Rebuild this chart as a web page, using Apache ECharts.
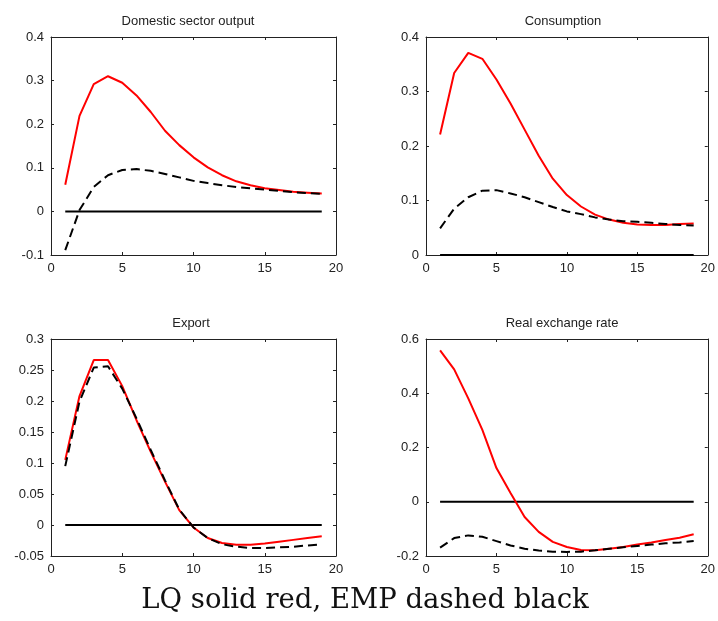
<!DOCTYPE html>
<html>
<head>
<meta charset="utf-8">
<script src="https://cdn.jsdelivr.net/npm/echarts@6/dist/echarts.min.js"></script>
<style>
html,body{margin:0;padding:0;background:#fff;}
#chart{width:718px;height:621px;}
</style>
</head>
<body>
<div id="chart"></div>
<script>
const periods = [1,2,3,4,5,6,7,8,9,10,11,12,13,14,15,16,17,18,19];
const zeroLine = [0,0,0,0,0,0,0,0,0,0,0,0,0,0,0,0,0,0,0];

const panelTitles = ['Domestic sector output', 'Consumption', 'Export', 'Real exchange rate'];
const captionText = 'LQ solid red, EMP dashed black';

const outputLQ  = [0.061, 0.219, 0.292, 0.310, 0.295, 0.266, 0.228, 0.185, 0.152, 0.124, 0.101, 0.083, 0.069, 0.060, 0.053, 0.049, 0.045, 0.043, 0.041];
const outputEMP = [-0.089, 0.003, 0.056, 0.083, 0.095, 0.097, 0.093, 0.086, 0.078, 0.070, 0.065, 0.060, 0.056, 0.053, 0.050, 0.047, 0.044, 0.042, 0.040];

const consLQ  = [0.221, 0.334, 0.371, 0.360, 0.322, 0.278, 0.230, 0.182, 0.140, 0.110, 0.089, 0.074, 0.065, 0.059, 0.056, 0.055, 0.055, 0.057, 0.058];
const consEMP = [0.049, 0.085, 0.106, 0.118, 0.119, 0.113, 0.106, 0.097, 0.088, 0.080, 0.075, 0.069, 0.065, 0.062, 0.061, 0.059, 0.057, 0.055, 0.054];

const exportLQ  = [0.105, 0.208, 0.266, 0.266, 0.224, 0.169, 0.118, 0.070, 0.024, -0.004, -0.021, -0.029, -0.032, -0.032, -0.030, -0.027, -0.024, -0.021, -0.018];
const exportEMP = [0.095, 0.199, 0.254, 0.256, 0.220, 0.172, 0.121, 0.072, 0.025, -0.004, -0.021, -0.031, -0.035, -0.037, -0.037, -0.036, -0.035, -0.033, -0.031];

const rerLQ  = [0.558, 0.488, 0.381, 0.265, 0.124, 0.032, -0.056, -0.111, -0.148, -0.167, -0.178, -0.179, -0.173, -0.167, -0.158, -0.150, -0.141, -0.133, -0.120];
const rerEMP = [-0.169, -0.134, -0.124, -0.129, -0.145, -0.161, -0.173, -0.180, -0.184, -0.185, -0.184, -0.179, -0.173, -0.168, -0.163, -0.158, -0.153, -0.150, -0.145];

const xTicks = {min: 0, max: 20, interval: 5};
const yRanges = [
  {min: -0.1, max: 0.4, interval: 0.1},
  {min: 0, max: 0.4, interval: 0.1},
  {min: -0.05, max: 0.3, interval: 0.05},
  {min: -0.2, max: 0.6, interval: 0.2}
];
const lqSeries = [outputLQ, consLQ, exportLQ, rerLQ];
const empSeries = [outputEMP, consEMP, exportEMP, rerEMP];

const grids = [
  {left: 51, top: 37, width: 285, height: 218},
  {left: 426, top: 37, width: 284, height: 218},
  {left: 51, top: 339, width: 285, height: 217},
  {left: 426, top: 339, width: 284, height: 217}
];
const titlePos = [[188, 21], [563, 21], [191, 323], [562, 323]];

const axisColor = '#222';
const labelFont = {color: '#222', fontSize: 13, fontFamily: 'Liberation Sans, Arial, sans-serif'};

const xAxes = [], yAxes = [], series = [], graphics = [];
grids.forEach((g, i) => {
  const common = {
    type: 'value',
    gridIndex: i,
    splitLine: {show: false},
    axisLine: {show: true, onZero: false, lineStyle: {color: axisColor, width: 1}},
    axisTick: {show: true, inside: true, length: 3, lineStyle: {color: axisColor}}
  };
  xAxes.push(Object.assign({}, common, xTicks, {
    position: 'bottom',
    axisLabel: Object.assign({margin: 7}, labelFont)
  }));
  xAxes.push(Object.assign({}, common, xTicks, {
    position: 'top',
    axisLabel: {show: false}
  }));
  yAxes.push(Object.assign({}, common, yRanges[i], {
    position: 'left',
    axisLabel: Object.assign({margin: 7}, labelFont)
  }));
  yAxes.push(Object.assign({}, common, yRanges[i], {
    position: 'right',
    axisLabel: {show: false}
  }));
  const mk = arr => periods.map((p, k) => [p, arr[k]]);
  series.push({
    type: 'line', xAxisIndex: 2*i, yAxisIndex: 2*i,
    data: mk(zeroLine), symbol: 'none', silent: true,
    lineStyle: {color: '#000', width: 2}
  });
  series.push({
    type: 'line', xAxisIndex: 2*i, yAxisIndex: 2*i,
    data: mk(lqSeries[i]), symbol: 'none', silent: true,
    lineStyle: {color: '#ff0000', width: 2}
  });
  series.push({
    type: 'line', xAxisIndex: 2*i, yAxisIndex: 2*i,
    data: mk(empSeries[i]), symbol: 'none', silent: true,
    lineStyle: {color: '#000', width: 2, type: [9, 5]}
  });
  graphics.push({
    type: 'text', x: titlePos[i][0], y: titlePos[i][1],
    style: {text: panelTitles[i], fill: '#222', fontSize: 13,
      fontFamily: 'Liberation Sans, Arial, sans-serif', align: 'center', verticalAlign: 'middle'}
  });
});
graphics.push({
  type: 'text', x: 365, y: 601,
  style: {text: captionText, fill: '#111', fontSize: 27.5,
    fontFamily: 'DejaVu Serif, serif', align: 'center', verticalAlign: 'middle'}
});

const chart = echarts.init(document.getElementById('chart'), null, {renderer: 'canvas'});
chart.setOption({
  animation: false,
  backgroundColor: '#fff',
  grid: grids,
  xAxis: xAxes,
  yAxis: yAxes,
  series: series,
  graphic: graphics
});
</script>
</body>
</html>
